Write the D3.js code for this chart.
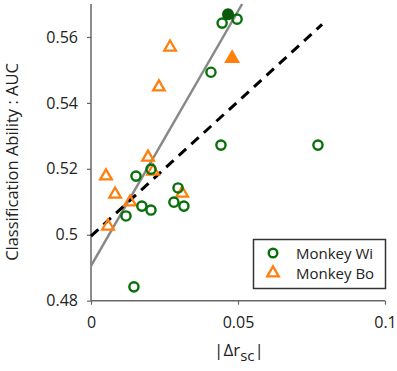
<!DOCTYPE html>
<html>
<head>
<meta charset="utf-8">
<script src="https://cdn.jsdelivr.net/npm/d3@7"></script>
<style>
  body { margin: 0; background: #fff; }
  text { font-family: "Open Sans", sans-serif; fill: #222; }
</style>
</head>
<body>
<svg id="chart" width="397" height="371"></svg>
<script>
// Monkey Wi: |delta r_sc| vs AUC (open circles), plus one filled point
const wiX = [0.0153, 0.0204, 0.0173, 0.0204, 0.0119, 0.0296, 0.0282, 0.0316, 0.0446, 0.0497, 0.0408, 0.0442, 0.0772, 0.0146];
const wiY = [0.5178, 0.5199, 0.5087, 0.5075, 0.5057, 0.5142, 0.5099, 0.5087, 0.5642, 0.5654, 0.5493, 0.5272, 0.5272, 0.4842];
const wiFilled = [0.0466, 0.5669];

// Monkey Bo (open triangles), plus one filled point
const boX = [0.0194, 0.0051, 0.0082, 0.0133, 0.0058, 0.0211, 0.0310, 0.0269, 0.0231];
const boY = [0.5235, 0.5178, 0.5123, 0.5099, 0.5026, 0.5193, 0.5126, 0.5569, 0.5448];
const boFilled = [0.0480, 0.5535];

// fit lines, endpoints in data units
const solidFit = [[0, 0.4906], [0.0514, 0.57]];
const dashedFit = [[0, 0.4996], [0.0786, 0.5638]];

const xTicks = [0, 0.05, 0.1];
const yTicks = [0.48, 0.5, 0.52, 0.54, 0.56];
const legendLabels = ['Monkey Wi', 'Monkey Bo'];

const green = '#08700a', greenDark = '#0b5a0b', orange = '#ff7f0e';

const svg = d3.select('#chart');
const x = d3.scaleLinear().domain([0, 0.1]).range([91, 385]);
const y = d3.scaleLinear().domain([0.48, 0.57]).range([300.7, 4]);

// axes
const xAxis = svg.append('g').attr('transform', 'translate(0,300.7)')
  .call(d3.axisBottom(x).tickValues(xTicks).tickSize(4).tickFormat(d => String(+d.toFixed(2))));
const yAxis = svg.append('g').attr('transform', 'translate(91,0)')
  .call(d3.axisLeft(y).tickValues(yTicks).tickSize(4).tickFormat(d => String(+d.toFixed(2))));
[xAxis, yAxis].forEach(a => {
  a.select('.domain').attr('stroke', '#666').attr('stroke-width', 1.5);
  a.selectAll('.tick line').attr('stroke', '#666').attr('stroke-width', 1.2);
  a.selectAll('text').attr('font-size', 16).attr('fill', '#222').attr('font-family', '"Open Sans", sans-serif');
});
yAxis.select('.domain').attr('d', `M0,${y(0.57)}V${y(0.48)}`);
xAxis.select('.domain').attr('d', `M${x(0)},0H${x(0.1)}`);
xAxis.selectAll('text').attr('dy', '1.25em');
yAxis.selectAll('text').attr('x', -13);

// fit lines
const line = d3.line().x(d => x(d[0])).y(d => y(d[1]));
svg.append('path').datum(solidFit).attr('d', line)
  .attr('stroke', '#888').attr('stroke-width', 2.5).attr('fill', 'none');
svg.append('path').datum(dashedFit).attr('d', line)
  .attr('stroke', '#000').attr('stroke-width', 3).attr('stroke-dasharray', '10,7').attr('fill', 'none');

// points
const tri = d3.symbol().type(d3.symbolTriangle);
const wi = wiX.map((v, i) => [v, wiY[i]]);
const bo = boX.map((v, i) => [v, boY[i]]);

svg.append('g').selectAll('path').data(bo).enter().append('path')
  .attr('d', tri.size(58)())
  .attr('transform', d => `translate(${x(d[0])},${y(d[1])})`)
  .attr('fill', 'none').attr('stroke', orange).attr('stroke-width', 2.3);
svg.append('g').selectAll('circle').data(wi).enter().append('circle')
  .attr('cx', d => x(d[0])).attr('cy', d => y(d[1])).attr('r', 4.6)
  .attr('fill', 'none').attr('stroke', green).attr('stroke-width', 2.4);
svg.append('path').attr('d', d3.symbol().type(d3.symbolTriangle).size(110)())
  .attr('transform', `translate(${x(boFilled[0])},${y(boFilled[1])})`)
  .attr('fill', orange);
svg.append('circle').attr('cx', x(wiFilled[0])).attr('cy', y(wiFilled[1])).attr('r', 6)
  .attr('fill', greenDark);

// legend
const lg = svg.append('g');
lg.append('rect').attr('x', 253.5).attr('y', 239.5).attr('width', 132).attr('height', 49)
  .attr('fill', '#fff').attr('stroke', '#333').attr('stroke-width', 1.5);
lg.append('circle').attr('cx', 273).attr('cy', 253).attr('r', 4.3)
  .attr('fill', 'none').attr('stroke', green).attr('stroke-width', 2.4);
lg.append('path').attr('d', tri.size(58)()).attr('transform', 'translate(273,273)')
  .attr('fill', 'none').attr('stroke', orange).attr('stroke-width', 2.3);
lg.selectAll('text').data(legendLabels).enter().append('text')
  .attr('x', 296).attr('y', (d, i) => 259 + i * 20)
  .attr('font-size', 15).text(d => d);

// axis titles
svg.append('text').attr('transform', 'translate(18,162) rotate(-90)')
  .attr('text-anchor', 'middle').attr('font-size', 16.5)
  .text('Classification Ability : AUC');
const xt = svg.append('text').attr('x', 239).attr('y', 356).attr('text-anchor', 'middle').attr('font-size', 17);
xt.append('tspan').text('|Δr');
xt.append('tspan').attr('dy', 5).attr('font-size', 15).text('sc');
xt.append('tspan').attr('dy', -5).text('|');
</script>
</body>
</html>
